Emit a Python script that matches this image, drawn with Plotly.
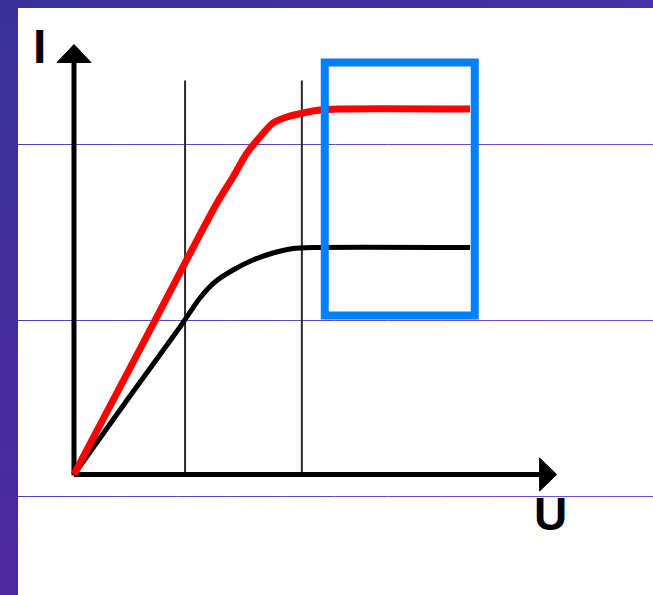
import plotly.graph_objects as go

# ---------------- data (U in volts-like units, I in current-like units) -------------
red_u = [0.0, 0.62, 1.249, 1.389, 1.511, 1.624, 1.738, 1.860, 2.0, 2.148, 2.323, 3.459]
red_i = [0.0, 1.348, 2.715, 2.975, 3.215, 3.375, 3.515, 3.575, 3.615, 3.645, 3.655, 3.655]

black_u = [0.0, 0.489, 0.926, 1.100, 1.231, 1.389, 1.563, 1.738, 1.913, 2.087, 3.459]
black_i = [0.0, 0.785, 1.475, 1.765, 1.925, 2.045, 2.145, 2.215, 2.26, 2.27, 2.27]

guide_u = [0.97, 1.99]        # thin vertical guide lines
guide_top = 3.94

box_u = [2.19, 3.50]          # blue highlight box
box_i = [1.59, 4.12]

axis_u_max = 4.215            # arrow tip of U axis
axis_i_max = 4.30             # arrow tip of I axis
axis_labels = ["I", "U"]

# ---------------- scale helpers (pixel geometry of the 653x595 canvas) ---------------
W, H = 653, 595
OX, OY = 74.0, 474.5          # pixel position of the origin
SU, SI = 114.5, 100.0         # pixels per unit


def u_of(px):
    return (px - OX) / SU


def i_of(py):
    return (OY - py) / SI


fig = go.Figure()

# guide lines
for gu in guide_u:
    fig.add_trace(go.Scatter(x=[gu, gu], y=[0, guide_top], mode="lines",
                             line=dict(color="#2a2a2a", width=2), hoverinfo="skip"))

# axes lines
head_len_u = 17 / SU
head_len_i = 18 / SI
fig.add_trace(go.Scatter(x=[0, 0], y=[-0.01, axis_i_max - head_len_i], mode="lines",
                         line=dict(color="black", width=5), hoverinfo="skip"))
fig.add_trace(go.Scatter(x=[0, axis_u_max - head_len_u], y=[0, 0], mode="lines",
                         line=dict(color="black", width=5), hoverinfo="skip"))
# arrowheads
hw_u = 17 / SU
hw_i = 16.5 / SI
fig.add_trace(go.Scatter(x=[-hw_u, hw_u, 0, -hw_u],
                         y=[axis_i_max - head_len_i] * 2 + [axis_i_max, axis_i_max - head_len_i],
                         mode="lines", fill="toself", fillcolor="black",
                         line=dict(color="black", width=1), hoverinfo="skip"))
fig.add_trace(go.Scatter(x=[axis_u_max - head_len_u] * 2 + [axis_u_max, axis_u_max - head_len_u],
                         y=[-hw_i, hw_i, 0, -hw_i],
                         mode="lines", fill="toself", fillcolor="black",
                         line=dict(color="black", width=1), hoverinfo="skip"))

# curves
fig.add_trace(go.Scatter(x=black_u, y=black_i, mode="lines",
                         line=dict(color="black", width=5, shape="spline", smoothing=0.7),
                         hoverinfo="skip"))
fig.add_trace(go.Scatter(x=red_u, y=red_i, mode="lines",
                         line=dict(color="#ff0000", width=7, shape="spline", smoothing=0.8),
                         hoverinfo="skip"))

shapes = []
# blue box (square corners)
shapes.append(dict(type="rect", xref="x", yref="y", layer="above",
                   x0=box_u[0], x1=box_u[1], y0=box_i[0], y1=box_i[1],
                   line=dict(color="#0080ff", width=8), fillcolor="rgba(0,0,0,0)"))

# slide background decoration: left and top purple strips with a gentle gradient
n = 24


def mix(c1, c2, t):
    return "rgb(%d,%d,%d)" % tuple(round(a + (b - a) * t) for a, b in zip(c1, c2))


for k in range(n):
    t = k / (n - 1)
    shapes.append(dict(type="rect", xref="paper", yref="paper", layer="above",
                       x0=0, x1=18 / W, y0=1 - (k + 1) / n - 0.002, y1=1 - k / n,
                       fillcolor=mix((56, 50, 152), (78, 42, 160), t), line=dict(width=0)))
    shapes.append(dict(type="rect", xref="paper", yref="paper", layer="above",
                       x0=k / n, x1=(k + 1) / n + 0.002, y0=1 - 8 / H, y1=1,
                       fillcolor=mix((56, 50, 152), (70, 50, 162), t), line=dict(width=0)))
# horizontal slide lines
for py in [144, 320, 496]:
    m = 12
    for k in range(m):
        t = k / (m - 1)
        x0 = 18 + (W - 18) * k / m
        x1 = 18 + (W - 18) * (k + 1) / m
        yy = 1 - (py + 0.5) / H
        shapes.append(dict(type="line", xref="paper", yref="paper", layer="below",
                           x0=x0 / W, x1=x1 / W, y0=yy, y1=yy,
                           line=dict(color=mix((76, 68, 178), (126, 72, 204), t), width=1)))

annotations = [
    dict(x=u_of(39.5), y=i_of(46.5), xref="x", yref="y", text=axis_labels[0], showarrow=False,
         font=dict(family="Liberation Sans", size=48, color="black", weight="bold")),
    dict(x=u_of(550), y=i_of(514), xref="x", yref="y", text=axis_labels[1], showarrow=False,
         font=dict(family="Liberation Sans", size=46, color="black", weight="bold")),
]

fig.update_layout(
    width=W, height=H,
    margin=dict(l=0, r=0, t=0, b=0, pad=0),
    paper_bgcolor="white", plot_bgcolor="white",
    showlegend=False,
    xaxis=dict(range=[u_of(0), u_of(W)], visible=False, showgrid=False, zeroline=False, fixedrange=True),
    yaxis=dict(range=[i_of(H), i_of(0)], visible=False, showgrid=False, zeroline=False, fixedrange=True),
    shapes=shapes,
    annotations=annotations,
)

fig.write_html("out.html", config={"displayModeBar": False},
               post_script="document.body.style.margin='0';document.body.style.overflow='hidden';")
